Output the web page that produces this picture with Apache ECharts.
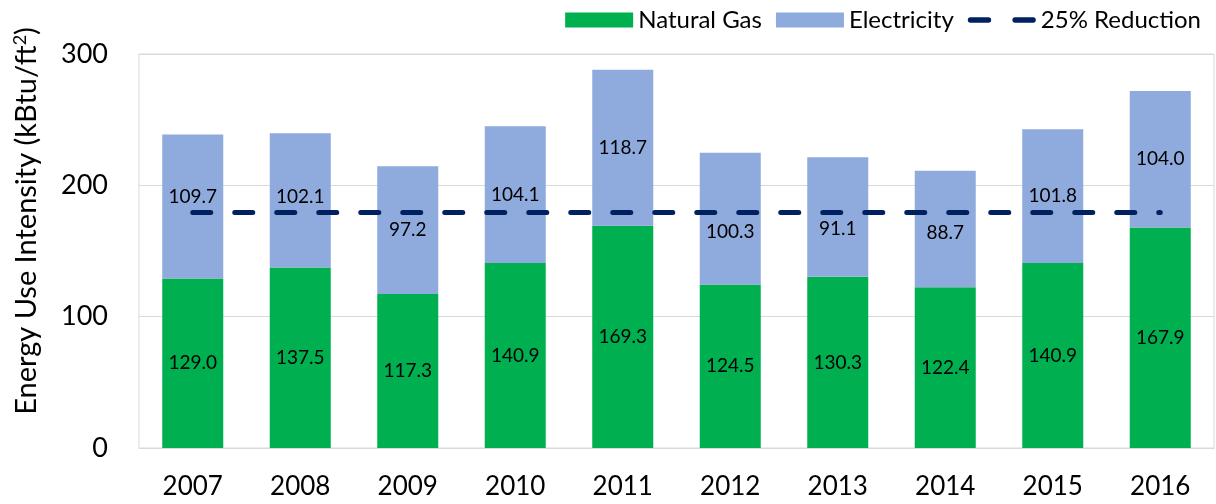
<!DOCTYPE html>
<html>
<head>
<meta charset="utf-8">
<script src="https://cdn.jsdelivr.net/npm/echarts@6/dist/echarts.min.js"></script>
<style>
html,body{margin:0;padding:0;background:#fff;}
#chart{width:1216px;height:504px;}
</style>
</head>
<body>
<div id="chart"></div>
<script>
var years=['2007','2008','2009','2010','2011','2012','2013','2014','2015','2016'];
var naturalGas=[129.0,137.5,117.3,140.9,169.3,124.5,130.3,122.4,140.9,167.9];
var electricity=[109.7,102.1,97.2,104.1,118.7,100.3,91.1,88.7,101.8,104.0];
var reduction=[179.3,179.3,179.3,179.3,179.3,179.3,179.3,179.3,179.3,179.3];
var yTicks=[0,100,200,300];
// labels moved off the dashed line by hand in the original (px, + is down)
var elecLabelNudge=[-10,-3,0,0,0,13,12,4,0,0];

var font='Lato';
var dashIcon='path://M2.5,0 h17 a2.5,2.5 0 0 1 0,5 h-17 a2.5,2.5 0 0 1 0,-5 z M44.5,0 h17 a2.5,2.5 0 0 1 0,5 h-17 a2.5,2.5 0 0 1 0,-5 z';

function fmt(p){return p.value.toFixed(1);}
var gasData=naturalGas.map(function(v){return {value:v};});
var elecData=electricity.map(function(v,i){
	return {value:v,label:{offset:[0,elecLabelNudge[i]]}};
});

var chart=echarts.init(document.getElementById('chart'));
chart.setOption({
	animation:false,
	textStyle:{fontFamily:font},
	legend:{
		right:10,top:3,itemGap:14,itemWidth:68,itemHeight:15,
		textStyle:{fontSize:24,color:'#000',fontFamily:font},
		data:[
			{name:'Natural Gas',icon:'rect'},
			{name:'Electricity',icon:'rect'},
			{name:'25% Reduction',icon:dashIcon}
		]
	},
	grid:{left:139,right:2,top:54,bottom:56,show:true,borderColor:'#d9d9d9',borderWidth:1},
	xAxis:{
		type:'category',data:years,
		axisTick:{show:false},
		axisLine:{lineStyle:{color:'#d9d9d9'}},
		axisLabel:{fontSize:26,color:'#000',margin:26}
	},
	yAxis:{
		type:'value',min:yTicks[0],max:yTicks[yTicks.length-1],interval:100,
		name:'Energy Use Intensity (kBtu/ft{s|2})',
		nameLocation:'middle',nameGap:97,
		nameTextStyle:{fontSize:29,color:'#000',padding:[0,0,0,60],
			rich:{s:{fontSize:18,verticalAlign:'top',padding:[0,0,13,0]}}},
		axisLabel:{fontSize:27,color:'#000',margin:31},
		splitLine:{lineStyle:{color:'#d9d9d9'}},
		axisLine:{show:false},axisTick:{show:false}
	},
	series:[
		{name:'Natural Gas',type:'bar',stack:'eui',data:gasData,barWidth:61,
			itemStyle:{color:'#00b050'},
			label:{show:true,position:'inside',color:'#000',fontSize:19,formatter:fmt}},
		{name:'Electricity',type:'bar',stack:'eui',data:elecData,barWidth:61,
			itemStyle:{color:'#8faadc'},
			label:{show:true,position:'inside',color:'#000',fontSize:19,formatter:fmt}},
		{name:'25% Reduction',type:'line',data:reduction,symbol:'none',z:5,
			itemStyle:{color:'#002060'},
			lineStyle:{color:'#002060',width:5,type:[18,24],cap:'round'}}
	]
});
</script>
</body>
</html>
